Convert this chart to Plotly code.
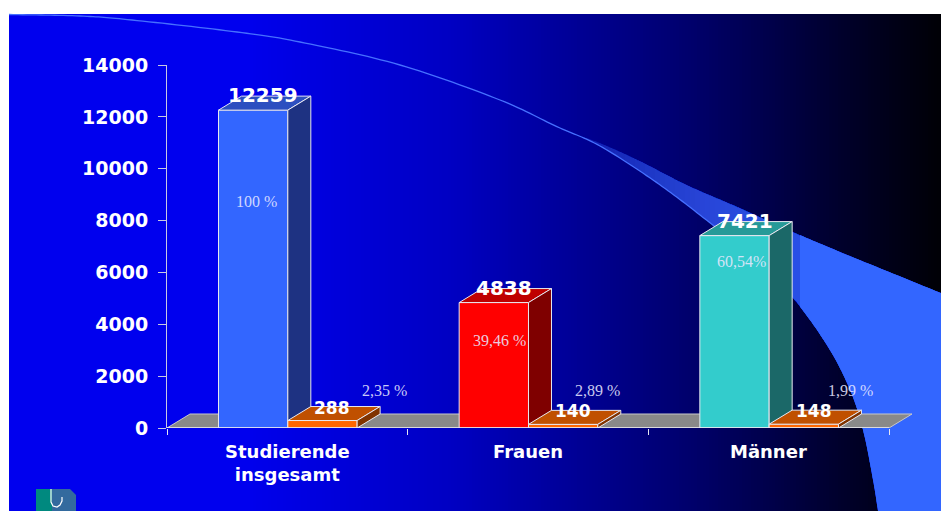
import numpy as np
import plotly.graph_objects as go

# ---------------- data ----------------
categories = ["Studierende<br>insgesamt", "Frauen", "Männer"]
students = [12259, 4838, 7421]
second = [288, 140, 148]
pct_main = ["100 %", "39,46 %", "60,54%"]
pct_second = ["2,35 %", "2,89 %", "1,99 %"]
y_ticks = [0, 2000, 4000, 6000, 8000, 10000, 12000, 14000]

# ---------------- layout geometry ----------------
W, H = 941, 511
LM, RM, TM, BM = 167, 0, 65, 83
PW, PH = W - LM - RM, H - TM - BM
PX_PER_CAT = 240.67
X_LO = -0.5
X_HI = -0.5 + PW / PX_PER_CAT
Y_HI = 14000
PX_PER_VAL = PH / Y_HI
DX = 23 / PX_PER_CAT      # 3D depth in x (data units)
DY = 14 / PX_PER_VAL      # 3D depth in y (data units)
BAR_W = 0.288
MAIN_OFF = -0.286

main_colors = [("#3366FF", "#2C4FC0", "#1E3282"),
               ("#FF0000", "#BF0000", "#7F0000"),
               ("#33CCCC", "#269A98", "#1B6868")]
sec_colors = ("#FF6600", "#C05000", "#803300")
EDGE = dict(color="rgb(232,232,240)", width=1)


def to_paper(X, Y):
    return (X - LM) / PW, (H - BM - Y) / PH


def catmull(pts, n=16):
    pts = np.array(pts, float)
    P = np.vstack([pts[0] * 2 - pts[1], pts, pts[-1] * 2 - pts[-2]])
    out = []
    for i in range(1, len(P) - 2):
        p0, p1, p2, p3 = P[i - 1], P[i], P[i + 1], P[i + 2]
        for t in np.linspace(0, 1, n, endpoint=False):
            t2, t3 = t * t, t * t * t
            out.append(0.5 * ((2 * p1) + (-p0 + p2) * t + (2 * p0 - 5 * p1 + 4 * p2 - p3) * t2
                              + (-p0 + 3 * p1 - 3 * p2 + p3) * t3))
    out.append(P[-2])
    return np.array(out)


def path_str(points, close=True):
    s = []
    for k, (X, Y) in enumerate(points):
        px, py = to_paper(X, Y)
        s.append(("M" if k == 0 else "L") + f"{px:.5f},{py:.5f}")
    return " ".join(s) + (" Z" if close else "")


shapes = []

# ---------------- background gradient ----------------
def bgc(X):
    b = np.interp(X, [9, 250, 450, 690, 850, 941], [240, 236, 195, 108, 40, 5])
    return f"rgb(0,0,{int(round(b))})"

x0b, y0b = to_paper(9, 14)
x1b, y1b = to_paper(250, 511)
shapes.append(dict(type="rect", xref="paper", yref="paper", x0=x0b, x1=x1b + 0.002, y0=y0b, y1=y1b,
                   fillcolor=bgc(130), line=dict(width=0), layer="below"))
X = 250
while X < W:
    a, b_ = to_paper(X, 14)
    c, d = to_paper(min(X + 4, W + 2), 511)
    shapes.append(dict(type="rect", xref="paper", yref="paper", x0=a, x1=c, y0=b_, y1=d,
                       fillcolor=bgc(X + 1.5), line=dict(width=0), layer="below"))
    X += 3

# ---------------- swoosh ----------------
upper_pts = [(9, 14.5), (80, 16), (132, 20), (237, 32), (300, 42), (400, 65), (500, 100),
             (560, 128), (600, 143), (640, 161), (687, 185), (740, 208), (793, 232), (850, 256), (941, 293)]
lower_pts = [(560, 128), (600, 146), (653, 180), (700, 215), (750, 256), (792, 297), (828, 347),
             (850, 390), (863, 430), (873, 480), (878, 511)]
Ud = catmull(upper_pts)
Ld = catmull(lower_pts)


def swoosh_poly(x0):
    up = [(x0, float(np.interp(x0, Ud[:, 0], Ud[:, 1])))] + [tuple(p) for p in Ud if p[0] > x0]
    lo = [tuple(p) for p in Ld if p[0] > x0][::-1] + [(x0, float(np.interp(x0, Ld[:, 0], Ld[:, 1])))]
    return up + [(W + 2, 293), (W + 2, H + 2), (878, H + 2)] + lo


for x0 in np.arange(560, 800, 5):
    shapes.append(dict(type="path", xref="paper", yref="paper", path=path_str(swoosh_poly(float(x0))),
                       fillcolor="#3366FF", opacity=0.05, line=dict(width=0), layer="below"))
shapes.append(dict(type="path", xref="paper", yref="paper", path=path_str(swoosh_poly(800.0)),
                   fillcolor="#3366FF", opacity=1, line=dict(width=0), layer="below"))

line_pts = [tuple(p) for p in Ud if p[0] <= 560] + [tuple(p) for p in Ld if 560 < p[0] <= 760]
shapes.append(dict(type="path", xref="paper", yref="paper", path=path_str(line_pts, close=False),
                   line=dict(color="#4670FF", width=1.3), layer="below"))

# ---------------- logo ----------------
lx0, ly0 = to_paper(36, 489)
lx1, ly1 = to_paper(52, 512)
shapes.append(dict(type="rect", xref="paper", yref="paper", x0=lx0, x1=lx1, y0=ly1, y1=ly0,
                   fillcolor="#00897F", line=dict(width=0), layer="below"))
shapes.append(dict(type="path", xref="paper", yref="paper",
                   path=path_str([(52, 489), (70, 489), (76, 495), (76, 512), (52, 512)]),
                   fillcolor="#336A9E", line=dict(width=0), layer="below"))
shapes.append(dict(type="path", xref="paper", yref="paper",
                   path=path_str([(51, 489), (51, 502), (53, 506), (57, 507), (60, 505), (62, 501), (62, 497)], close=False),
                   line=dict(color="white", width=1.2), layer="below"))

# ---------------- x axis line ----------------
shapes.append(dict(type="line", xref="x", yref="y", x0=-0.5, x1=2.5, y0=0, y1=0,
                   line=dict(color="rgb(235,235,240)", width=1.5), layer="above"))

# ---------------- traces (3D boxes) ----------------
traces = []


def poly(xs, ys, color):
    return go.Scatter(x=xs, y=ys, mode="lines", fill="toself", fillcolor=color, line=EDGE,
                      hoverinfo="skip", showlegend=False)


# floor
traces.append(go.Scatter(x=[-0.5, 2.5, 2.5 + DX, -0.5 + DX, -0.5], y=[0, 0, DY, DY, 0], mode="lines",
                         fill="toself", fillcolor="#898989", line=dict(color="rgb(200,200,200)", width=1),
                         hoverinfo="skip", showlegend=False))


def box(xl, xr, v, cols):
    front, top, side = cols
    return [
        poly([xl, xr, xr, xl, xl], [0, 0, v, v, 0], front),
        poly([xl, xr, xr + DX, xl + DX, xl], [v, v, v + DY, v + DY, v], top),
        poly([xr, xr + DX, xr + DX, xr, xr], [0, DY, v + DY, v, 0], side),
    ]


annotations = []
val_font_big = dict(family="DejaVu Sans", size=20, color="white", weight="bold")
val_font_small = dict(family="DejaVu Sans", size=17, color="white", weight="bold")

for i, cat in enumerate(categories):
    xl = i + MAIN_OFF
    xr = xl + BAR_W
    traces += box(xl, xr, students[i], main_colors[i])
    annotations.append(dict(x=(xl + xr) / 2, y=students[i], xref="x", yref="y", text=str(students[i]),
                            showarrow=False, xshift=10, yanchor="bottom", yshift=1, font=val_font_big))
    xl2 = xr
    xr2 = xl2 + BAR_W
    traces += box(xl2, xr2, second[i], sec_colors)
    annotations.append(dict(x=(xl2 + xr2) / 2, y=second[i], xref="x", yref="y", text=str(second[i]),
                            showarrow=False, xshift=10, yanchor="bottom", yshift=1, font=val_font_small))
    annotations.append(dict(x=i, y=0, xref="x", yref="y", text=cat, showarrow=False,
                            yanchor="top", yshift=-11,
                            font=dict(family="DejaVu Sans", size=18, color="white", weight="bold")))

# percentage labels (positions in data units)
pct_main_x = [-0.130, 0.883, 1.885]
pct_main_y = [8523, 3162, 6209]
pct_sec_x = [0.402, 1.287, 2.338]
pct_sec_y = [1234, 1234, 1234]
pct_font = dict(family="Liberation Serif", size=16, color="rgba(232,232,255,0.88)")
for i in range(3):
    annotations.append(dict(x=pct_main_x[i], y=pct_main_y[i], xref="x", yref="y", text=pct_main[i],
                            showarrow=False, yanchor="bottom", yshift=-4.5, font=pct_font))
    annotations.append(dict(x=pct_sec_x[i], y=pct_sec_y[i], xref="x", yref="y", text=pct_second[i],
                            showarrow=False, yanchor="bottom", yshift=-4.5, font=pct_font))

fig = go.Figure(data=traces)
fig.update_layout(
    width=W, height=H, autosize=False,
    margin=dict(l=LM, r=RM, t=TM, b=BM, pad=0),
    paper_bgcolor="white", plot_bgcolor="rgba(0,0,0,0)",
    showlegend=False, shapes=shapes, annotations=annotations,
    xaxis=dict(range=[X_LO, X_HI], tickvals=[-0.5, 0.5, 1.5, 2.5], ticktext=["", "", "", ""],
               ticks="outside", ticklen=6, tickcolor="rgb(230,230,240)", tickwidth=1,
               showgrid=False, zeroline=False, showline=False, fixedrange=True),
    yaxis=dict(range=[0, Y_HI], tickvals=y_ticks, ticktext=[str(v) for v in y_ticks],
               ticks="outside", ticklen=8, tickcolor="rgb(200,200,225)", tickwidth=1,
               showline=True, linecolor="rgb(200,200,225)", linewidth=1,
               showgrid=False, zeroline=False, fixedrange=True, ticklabelstandoff=6,
               tickfont=dict(family="DejaVu Sans", size=19, color="white", weight="bold")),
)
fig.write_html("out.html", config={"displayModeBar": False})
